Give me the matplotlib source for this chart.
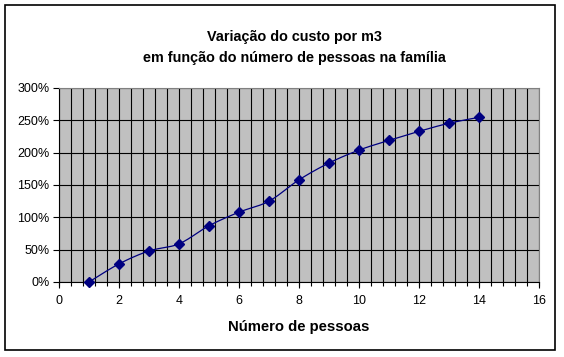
import numpy as np
import matplotlib
matplotlib.use("Agg")
import matplotlib.pyplot as plt
from matplotlib.ticker import MultipleLocator, FuncFormatter
from matplotlib.patches import Rectangle

pessoas = [1, 2, 3, 4, 5, 6, 7, 8, 9, 10, 11, 12, 13, 14]
custo = [0, 28, 48, 59, 87, 108, 125, 158, 184, 204, 219, 233, 245.5, 254.7]
title_1 = "Variação do custo por m3"
title_2 = "em função do número de pessoas na família"
xlabel = "Número de pessoas"

plt.rcParams['font.family'] = ['Liberation Sans', 'DejaVu Sans']

W, H = 564, 357
fig = plt.figure(figsize=(W / 100, H / 100), dpi=100)
fig.patches.append(Rectangle((5 / W, 1 - 350 / H), 550 / W, 345 / H, transform=fig.transFigure,
                             fill=False, edgecolor='black', linewidth=1.2))

l, r, t, b = 59, 539, 88, 282
ax = fig.add_axes([l / W, 1 - b / H, (r - l) / W, (b - t) / H])
ax.set_facecolor('#C0C0C0')

# smooth line (Catmull-Rom through data points, like Excel smoothing)
x = np.array(pessoas, float)
y = np.array(custo, float)
xs, ys = [], []
for i in range(len(x) - 1):
    p0 = np.array([x[max(i - 1, 0)], y[max(i - 1, 0)]])
    p1 = np.array([x[i], y[i]])
    p2 = np.array([x[i + 1], y[i + 1]])
    p3 = np.array([x[min(i + 2, len(x) - 1)], y[min(i + 2, len(x) - 1)]])
    for tt in np.linspace(0, 1, 20, endpoint=False):
        pt = 0.5 * ((2 * p1) + (-p0 + p2) * tt + (2 * p0 - 5 * p1 + 4 * p2 - p3) * tt ** 2
                    + (-p0 + 3 * p1 - 3 * p2 + p3) * tt ** 3)
        xs.append(pt[0]); ys.append(pt[1])
xs.append(x[-1]); ys.append(y[-1])

ax.plot(xs, ys, color='#000080', linewidth=0.9, zorder=3)
ax.plot(pessoas, custo, linestyle='none', marker='D', markersize=4.8, color='#000080', zorder=4,
        clip_on=False)

ax.set_xlim(0, 16)
ax.set_ylim(0, 300)
ax.xaxis.remove_overlapping_locs = False
ax.xaxis.set_major_locator(MultipleLocator(2))
ax.xaxis.set_minor_locator(MultipleLocator(0.4))
ax.yaxis.set_major_locator(MultipleLocator(50))
ax.yaxis.set_major_formatter(FuncFormatter(lambda v, p: f"{int(v)}%"))
ax.grid(True, which='major', axis='y', color='black', linewidth=0.8)
ax.grid(True, which='minor', axis='x', color='black', linewidth=0.8)
ax.set_axisbelow(True)

for s in ['top', 'right']:
    ax.spines[s].set_color('#808080')
    ax.spines[s].set_linewidth(0.8)
for s in ['left', 'bottom']:
    ax.spines[s].set_color('black')
    ax.spines[s].set_linewidth(0.8)

ax.tick_params(axis='both', which='major', labelsize=9, length=4, width=0.8, color='black', pad=3)
ax.tick_params(axis='x', which='minor', length=3, width=0.8, color='black')
ax.tick_params(axis='x', which='major', pad=5)

fig.text(294 / W, 1 - 37 / H, title_1, ha='center', va='center', fontsize=10.4, fontweight='bold')
fig.text(294 / W, 1 - 58 / H, title_2, ha='center', va='center', fontsize=10.4, fontweight='bold')
fig.text(299 / W, 1 - 327 / H, xlabel, ha='center', va='center', fontsize=10.7, fontweight='bold')

fig.savefig('out.png', dpi=100, facecolor='white')
